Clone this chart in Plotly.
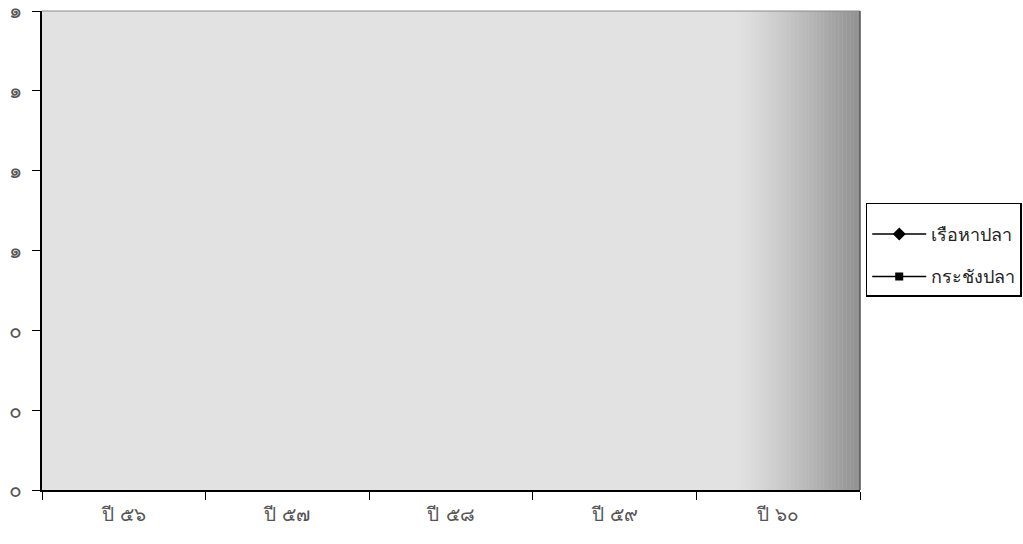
import plotly.graph_objects as go

categories = ["ปี ๕๖", "ปี ๕๗", "ปี ๕๘", "ปี ๕๙", "ปี ๖๐"]
boat_values = [None, None, None, None, None]      # เรือหาปลา (no visible data)
cage_values = [None, None, None, None, None]      # กระชังปลา (no visible data)
y_tickvals = [0, 0.2, 0.4, 0.6, 0.8, 1.0, 1.2]
y_ticktext = ["๐", "๐", "๐", "๑", "๑", "๑", "๑"]

fig = go.Figure()
fig.add_trace(go.Scatter(x=categories, y=boat_values, name="เรือหาปลา",
                         mode="lines+markers", legendgroup="a",
                         line=dict(color="black", width=1.5),
                         marker=dict(symbol="diamond", size=10, color="black")))
fig.add_trace(go.Scatter(x=categories, y=cage_values, name="กระชังปลา",
                         mode="lines+markers", legendgroup="b",
                         line=dict(color="black", width=1.5),
                         marker=dict(symbol="square", size=8, color="black")))

# gradient-like background of the plot area (light gray, darker to the right)
base = 226
shapes = [dict(type="rect", xref="x domain", yref="y domain",
               x0=0, x1=1, y0=0, y1=1, layer="below",
               line=dict(width=0), fillcolor=f"rgb({base},{base},{base})")]
n = 90
start = 0.85
for i in range(n):
    x0 = start + (1 - start) * i / n
    x1 = start + (1 - start) * (i + 1) / n + 0.0005
    t = (i + 0.5) / n
    g = int(base - 82 * t ** 1.2)
    shapes.append(dict(type="rect", xref="x domain", yref="y domain",
                       x0=x0, x1=min(x1, 1), y0=0, y1=1, layer="below",
                       line=dict(width=0), fillcolor=f"rgb({g},{g},{g})"))
shapes.append(dict(type="line", xref="x domain", yref="y domain",
                   x0=0, x1=1, y0=1, y1=1, line=dict(color="#8a8a8a", width=1)))
shapes.append(dict(type="line", xref="x domain", yref="y domain",
                   x0=1, x1=1, y0=0, y1=1, line=dict(color="#555555", width=1.5)))

fig.update_layout(
    width=1023, height=544,
    margin=dict(l=42, r=163, t=11, b=54, autoexpand=False),
    paper_bgcolor="white",
    plot_bgcolor=f"rgb({base},{base},{base})",
    shapes=shapes,
    font=dict(family="DejaVu Sans, Noto Sans, sans-serif", color="#333333"),
    showlegend=True,
    legend=dict(x=1.007, y=0.60, xanchor="left", yanchor="top",
                bgcolor="white", bordercolor="black", borderwidth=1.5,
                font=dict(size=18, color="#222222"),
                title=dict(text=" ", font=dict(size=9)),
                tracegroupgap=16, itemwidth=54),
    xaxis=dict(type="category", range=[-0.5, len(categories) - 0.5],
               showgrid=False, zeroline=False,
               showline=True, linecolor="black", linewidth=1.5,
               ticks="outside", tickson="boundaries", ticklen=8,
               tickcolor="black", tickwidth=1, automargin=False,
               tickfont=dict(size=19, color="#555555"),
               ticklabelstandoff=6),
    yaxis=dict(range=[0, 1.2], tickvals=y_tickvals, ticktext=y_ticktext,
               showgrid=False, zeroline=False, automargin=False,
               ticklabeloverflow="allow",
               showline=True, linecolor="black", linewidth=1.5,
               ticks="outside", ticklen=8, tickcolor="black", tickwidth=1,
               ticklabelstandoff=6,
               tickfont=dict(size=21, color="#555555")),
)

fig.write_html("out.html",
               config={"displayModeBar": False},
               post_script="document.body.style.margin='0';"
                           "document.body.style.overflow='hidden';")
